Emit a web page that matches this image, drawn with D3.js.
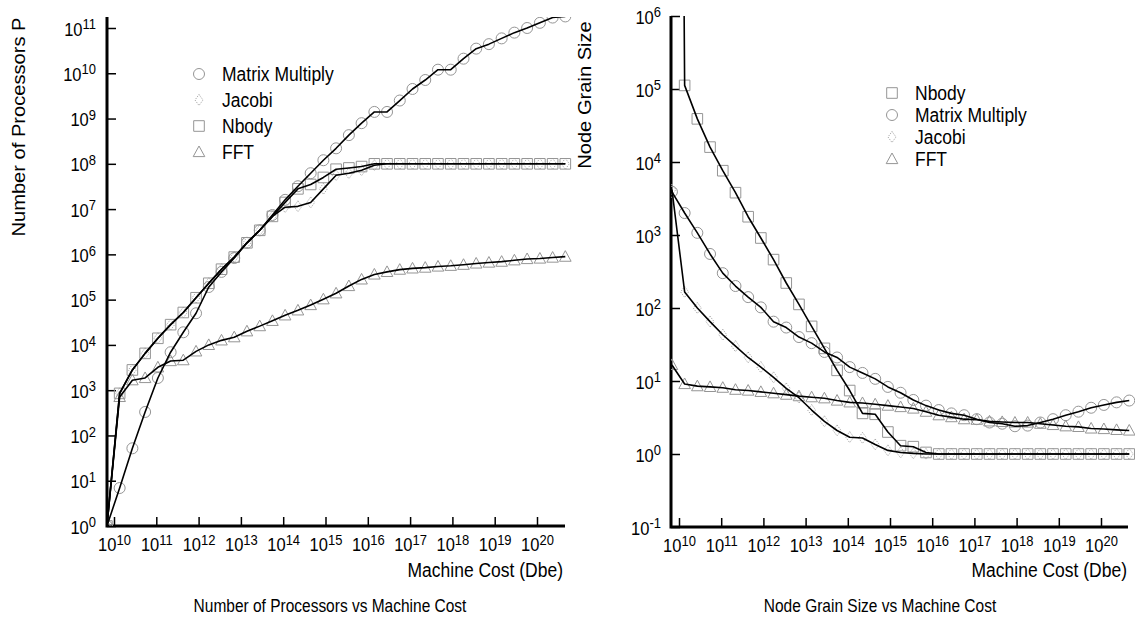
<!DOCTYPE html>
<html>
<head>
<meta charset="utf-8">
<style>
body { margin: 0; background: #fff; }
text { font-family: "Liberation Sans", Arial, sans-serif; fill: #000; }
</style>
</head>
<body>
<svg width="1135" height="624"></svg>
<script src="https://d3js.org/d3.v7.min.js"></script>
<script>

// machine cost (Dbe), shared by both panels
var cost = [6.8e9, 1.36e10, 2.72e10, 5.44e10, 1.09e11, 2.18e11, 4.35e11, 8.7e11, 1.74e12, 3.48e12,
  6.96e12, 1.39e13, 2.79e13, 5.57e13, 1.11e14, 2.23e14, 4.46e14, 8.91e14, 1.78e15, 3.57e15,
  7.13e15, 1.43e16, 2.85e16, 5.7e16, 1.14e17, 2.28e17, 4.56e17, 9.13e17, 1.83e18, 3.65e18,
  7.3e18, 1.46e19, 2.92e19, 5.84e19, 1.17e20, 2.34e20, 4.67e20];

// number of processors P
var procMatrix = [1, 6.9, 52, 330, 1860, 6900, 1.9e4, 5.0e4, 1.9e5, 4.1e5, 8.3e5, 1.8e6, 3.4e6, 7.4e6,
  1.6e7, 3.2e7, 6.2e7, 1.2e8, 2.2e8, 4.3e8, 7.9e8, 1.4e9, 1.4e9, 2.5e9, 4.5e9, 7.1e9, 1.2e10, 1.2e10,
  2.1e10, 3.5e10, 4.4e10, 5.9e10, 7.9e10, 1.0e11, 1.3e11, 1.7e11, 1.8e11];
var procJacobi = [1, 850, 2800, 6500, 1.4e4, 2.8e4, 5.2e4, 1.1e5, 2.3e5, 4.7e5, 8.7e5, 1.8e6, 3.4e6, 6.9e6,
  1.1e7, 1.15e7, 1.4e7, 2.8e7, 5.6e7, 6.2e7, 7.2e7, 9.3e7, 1e8, 1e8, 1e8, 1e8, 1e8, 1e8,
  1e8, 1e8, 1e8, 1e8, 1e8, 1e8, 1e8, 1e8, 1e8];
var procNbody = [1, 850, 2800, 6500, 1.4e4, 2.8e4, 5.2e4, 1.1e5, 2.3e5, 4.7e5, 8.7e5, 1.8e6, 3.4e6, 6.9e6,
  1.4e7, 2.8e7, 3.5e7, 5.0e7, 7.6e7, 8.1e7, 8.7e7, 1e8, 1e8, 1e8, 1e8, 1e8, 1e8, 1e8,
  1e8, 1e8, 1e8, 1e8, 1e8, 1e8, 1e8, 1e8, 1e8];
var procFFT = [1, 710, 1660, 1860, 3200, 4400, 4600, 7200, 1.0e4, 1.26e4, 1.48e4, 2.0e4, 2.6e4, 3.4e4,
  4.5e4, 5.8e4, 7.6e4, 1.02e5, 1.38e5, 2.0e5, 2.8e5, 3.6e5, 4.1e5, 4.6e5, 4.9e5, 5.1e5, 5.4e5, 5.6e5,
  5.9e5, 6.3e5, 6.6e5, 6.9e5, 7.4e5, 7.9e5, 8.1e5, 8.5e5, 8.9e5];

// node grain size
var grainNbody = [1e30, 1.12e5, 3.9e4, 1.6e4, 7600, 3800, 1780, 910, 460, 220, 112, 56, 28, 14,
  7.4, 3.6, 3.5, 2.0, 1.3, 1.26, 1.05, 1, 1, 1, 1, 1, 1, 1, 1, 1, 1, 1, 1, 1, 1, 1, 1];
var grainMatrix = [3900, 2000, 1070, 550, 300, 200, 141, 102, 65, 54, 40, 33, 25, 21, 15.5, 12.9,
  10.7, 8.3, 6.9, 5.5, 4.6, 4.0, 3.6, 3.4, 3.0, 2.7, 2.6, 2.4, 2.45, 2.7, 3.0, 3.4, 3.8, 4.3, 4.7, 5.1, 5.4];
var grainJacobi = [4200, 166, 100, 65, 43, 30, 21, 15.5, 11.2, 7.9, 5.9, 4.0, 2.8, 2.1, 1.7, 1.66,
  1.35, 1.12, 1.05, 1.02, 1, 1, 1, 1, 1, 1, 1, 1, 1, 1, 1, 1, 1, 1, 1, 1, 1];
var grainFFT = [16.6, 9.1, 8.5, 8.3, 8.1, 7.6, 7.4, 7.1, 6.8, 6.5, 6.2, 6.0, 5.8, 5.4, 5.1, 5.0, 4.8,
  4.6, 4.4, 4.2, 3.8, 3.4, 3.2, 3.0, 2.95, 2.8, 2.75, 2.7, 2.7, 2.6, 2.5, 2.4, 2.35, 2.24, 2.2, 2.14, 2.1];

var costTicks = [1e10, 1e11, 1e12, 1e13, 1e14, 1e15, 1e16, 1e17, 1e18, 1e19, 1e20];
var procTicks = [1, 1e1, 1e2, 1e3, 1e4, 1e5, 1e6, 1e7, 1e8, 1e9, 1e10, 1e11];
var grainTicks = [1e-1, 1, 1e1, 1e2, 1e3, 1e4, 1e5, 1e6];

var leftLegend = ["Matrix Multiply", "Jacobi", "Nbody", "FFT"];
var rightLegend = ["Nbody", "Matrix Multiply", "Jacobi", "FFT"];

var svg = d3.select("svg");
var sy = 1.15; // the original text is drawn a bit tall

var shapes = {
  "Matrix Multiply": "M-5.5,0a5.5,5.5 0 1,0 11,0a5.5,5.5 0 1,0 -11,0",
  "Nbody": "M-5.3,-5.3h10.6v10.6h-10.6z",
  "FFT": "M0,-6L5.8,4.6H-5.8Z",
  "Jacobi": "M0,-5.5L4,0L0,5.5L-4,0Z"
};

function marker(g, name, x, y) {
  var p = g.append("path")
    .attr("d", shapes[name])
    .attr("transform", "translate(" + x + "," + y + ")")
    .attr("fill", "none");
  if (name == "Jacobi") {
    p.attr("stroke", "#a8a8a8").attr("stroke-width", 1).style("stroke-dasharray", "1.2,1.2");
  } else {
    p.attr("stroke", "#959595").attr("stroke-width", 1);
  }
}

function label(x, y, str, size, anchor, rot) {
  return svg.append("text")
    .attr("transform", "translate(" + x + "," + y + ") scale(1," + sy + ")" + (rot ? " rotate(-90)" : ""))
    .attr("text-anchor", anchor)
    .attr("font-size", size)
    .text(str);
}

function pow10(t, d, base, sup) {
  var e = Math.round(Math.log10(d));
  t.append("tspan").attr("font-size", base).text("10");
  t.append("tspan").attr("font-size", sup).attr("dy", -5.5).text(e);
}

function panel(p) {
  var x = d3.scaleLog().domain([1e10, 1e20]).range(p.xr);
  var y = d3.scaleLog().domain(p.yd).range(p.yr);

  var gx = svg.append("g")
    .attr("transform", "translate(0," + p.base + ")")
    .call(d3.axisBottom(x).tickValues(costTicks).tickSize(-9).tickSizeOuter(0));
  gx.select(".domain").remove();
  gx.selectAll(".tick text").remove();
  gx.selectAll(".tick line").attr("stroke", "#000").attr("stroke-width", 1.5);
  gx.selectAll(".tick").append("text")
    .attr("transform", "translate(0,25) scale(1," + sy + ")")
    .attr("text-anchor", "middle")
    .each(function(d) { pow10(d3.select(this), d, 16.5, 13); });

  var gy = svg.append("g")
    .attr("transform", "translate(" + p.left + ",0)")
    .call(d3.axisLeft(y).tickValues(p.yTicks).tickSize(-9).tickSizeOuter(0));
  gy.select(".domain").remove();
  gy.selectAll(".tick text").remove();
  gy.selectAll(".tick line").attr("stroke", "#000").attr("stroke-width", 1.5);
  gy.selectAll(".tick").append("text")
    .attr("transform", "translate(" + p.labelGap + ",7) scale(1," + sy + ")")
    .attr("text-anchor", "end")
    .each(function(d) { pow10(d3.select(this), d, 16.5, 13); });

  svg.append("path")
    .attr("d", "M" + p.left + "," + p.top + "V" + p.base + "H" + p.right)
    .attr("fill", "none")
    .attr("stroke", "#000")
    .attr("stroke-width", 3);

  svg.append("clipPath").attr("id", p.id)
    .append("rect")
    .attr("x", p.left).attr("y", p.top)
    .attr("width", p.right - p.left + 10).attr("height", p.base - p.top);

  var plot = svg.append("g").attr("clip-path", "url(#" + p.id + ")");
  var line = d3.line()
    .x(function(d, i) { return x(cost[i]); })
    .y(function(d) { return y(d); });

  p.series.forEach(function(s) {
    var mg = plot.append("g");
    s.values.forEach(function(v, i) { marker(mg, s.name, x(cost[i]), y(v)); });
  });
  p.series.forEach(function(s) {
    plot.append("path")
      .datum(s.values)
      .attr("fill", "none")
      .attr("stroke", "#000")
      .attr("stroke-width", 1.6)
      .attr("stroke-linejoin", "round")
      .attr("d", line);
  });

  p.legend.forEach(function(name, i) {
    var ly = p.legY + i * p.legStep;
    marker(svg, name, p.legX, ly);
    label(p.legX + 23, ly + 7, name, 17.5, "start");
  });
}

panel({
  id: "clipL", xr: [114, 537], yd: [1, 1e11], yr: [526, 28],
  left: 107, right: 565, top: 17, base: 526, labelGap: -11, yTicks: procTicks,
  series: [
    {name: "Jacobi", values: procJacobi},
    {name: "Nbody", values: procNbody},
    {name: "FFT", values: procFFT},
    {name: "Matrix Multiply", values: procMatrix}
  ],
  legend: leftLegend, legX: 199, legY: 74, legStep: 26
});

panel({
  id: "clipR", xr: [679, 1101], yd: [0.1, 1e6], yr: [527, 16],
  left: 671, right: 1128, top: 16, base: 527, labelGap: -10, yTicks: grainTicks,
  series: [
    {name: "Jacobi", values: grainJacobi},
    {name: "Nbody", values: grainNbody},
    {name: "FFT", values: grainFFT},
    {name: "Matrix Multiply", values: grainMatrix}
  ],
  legend: rightLegend, legX: 892, legY: 93, legStep: 22
});

label(25, 127, "Number of Processors P", 17.5, "middle", true);
label(591, 95, "Node Grain Size", 17.5, "middle", true);
label(563, 577, "Machine Cost (Dbe)", 17.5, "end");
label(1127, 577, "Machine Cost (Dbe)", 17.5, "end");
label(330, 612, "Number of Processors vs Machine Cost", 15.5, "middle");
label(880, 612, "Node Grain Size vs Machine Cost", 15.5, "middle");

</script>
</body>
</html>
